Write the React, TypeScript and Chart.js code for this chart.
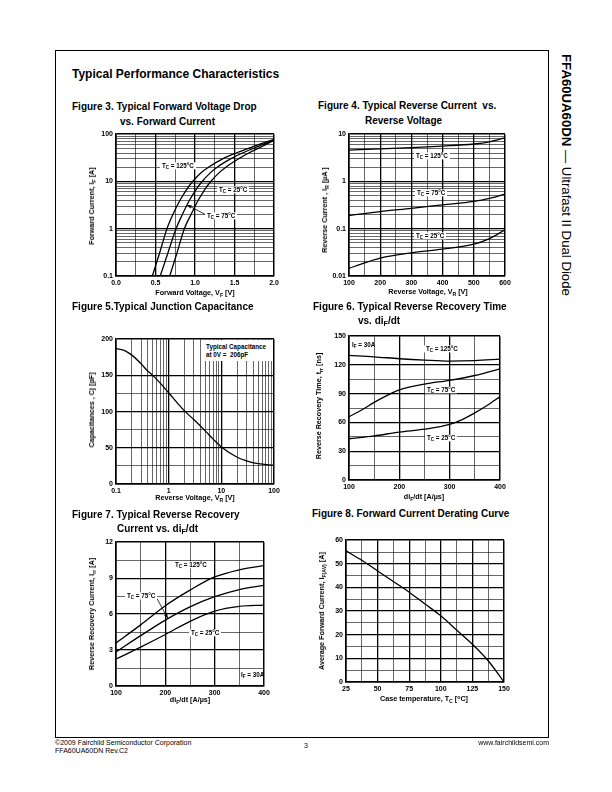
import React, { useEffect, useRef } from 'react';
import { Chart, registerables } from 'chart.js';

Chart.register(...registerables);

const FONT = '"Liberation Sans", Arial, Helvetica, sans-serif';

// ---------------- Figure 3 : Forward voltage drop ----------------
const fig3V125 = [0.46, 0.55, 0.645, 0.72, 0.81, 0.9, 0.97, 1.07, 1.17, 1.35, 1.52, 1.74, 2.0];
const fig3I125 = [0.1, 0.3, 1, 2, 4, 7, 10, 15, 20, 30, 40, 55, 78];
const fig3V75 = [0.56, 0.655, 0.76, 0.84, 0.93, 1.02, 1.09, 1.19, 1.28, 1.45, 1.6, 1.8, 2.0];
const fig3I75 = [0.1, 0.3, 1, 2, 4, 7, 10, 15, 20, 30, 40, 55, 76];
const fig3V25 = [0.68, 0.77, 0.865, 0.95, 1.04, 1.13, 1.2, 1.3, 1.39, 1.55, 1.68, 1.85, 2.0];
const fig3I25 = [0.1, 0.3, 1, 2, 4, 7, 10, 15, 20, 30, 40, 55, 74];
const fig3XGrid = [0, 0.25, 0.5, 0.75, 1.0, 1.25, 1.5, 1.75, 2.0];
const fig3XMajor = [0.5, 1.0, 1.5];
const fig3XLabelVals = [0, 0.5, 1.0, 1.5, 2.0];
const fig3XLabels = ['0.0', '0.5', '1.0', '1.5', '2.0'];
const fig3YLabelVals = [0.1, 1, 10, 100];
const fig3YLabels = ['0.1', '1', '10', '100'];

// ---------------- Figure 4 : Reverse current ----------------
const fig4VR = [100, 200, 300, 400, 500, 550, 600];
const fig4I125 = [4.6, 4.9, 5.2, 5.6, 6.2, 6.9, 8.4];
const fig4I75 = [0.19, 0.23, 0.27, 0.32, 0.38, 0.44, 0.54];
const fig4VR25 = [100, 150, 200, 300, 400, 500, 550, 600];
const fig4I25 = [0.0145, 0.019, 0.024, 0.031, 0.037, 0.047, 0.062, 0.095];
const fig4XGrid = [100, 150, 200, 250, 300, 350, 400, 450, 500, 550, 600];
const fig4XMajor = [200, 300, 400, 500];
const fig4XLabelVals = [100, 200, 300, 400, 500, 600];
const fig4XLabels = ['100', '200', '300', '400', '500', '600'];
const fig4YLabelVals = [0.01, 0.1, 1, 10];
const fig4YLabels = ['0.01', '0.1', '1', '10'];

// ---------------- Figure 5 : Junction capacitance ----------------
const fig5VR = [0.1, 0.15, 0.2, 0.3, 0.4, 0.5, 0.7, 1, 2, 3, 5, 7, 10, 20, 30, 50, 100];
const fig5C = [187, 184, 178, 166, 156, 150, 139, 126, 101, 89, 73, 62, 51, 37, 32, 28, 26];
const fig5YGrid = [0, 25, 50, 75, 100, 125, 150, 200];
const fig5YMajor = [50, 100, 150];
const fig5XLabelVals = [0.1, 1, 10, 100];
const fig5XLabels = ['0.1', '1', '10', '100'];
const fig5YLabelVals = [0, 50, 100, 150, 200];
const fig5YLabels = ['0', '50', '100', '150', '200'];

// ---------------- Figure 6 : Reverse recovery time ----------------
const fig6Di = [100, 150, 200, 250, 300, 350, 400];
const fig6T125 = [130, 128.5, 126.5, 125, 124, 124.5, 126];
const fig6Di75 = [100, 125, 150, 175, 200, 250, 300, 350, 400];
const fig6T75 = [66, 73, 81, 88, 94, 100, 104, 109, 116];
const fig6Di25 = [100, 150, 200, 250, 300, 325, 350, 375, 400];
const fig6T25 = [43, 46, 50, 53, 58, 63, 70, 78, 87];
const fig6XGrid = [100, 150, 200, 250, 300, 350, 400];
const fig6XMajor = [200, 300];
const fig6XLabelVals = [100, 200, 300, 400];
const fig6XLabels = ['100', '200', '300', '400'];
const fig6YGrid = [0, 15, 30, 45, 60, 75, 90, 105, 120, 150];
const fig6YMajor = [30, 60, 90, 120];
const fig6YLabelVals = [0, 30, 60, 90, 120, 150];
const fig6YLabels = ['0', '30', '60', '90', '120', '150'];

// ---------------- Figure 7 : Reverse recovery current ----------------
const fig7Di = [100, 150, 200, 250, 300, 350, 400];
const fig7I125 = [3.6, 5.1, 6.7, 8.0, 9.1, 9.7, 10.05];
const fig7I75 = [2.85, 4.2, 5.5, 6.6, 7.45, 8.05, 8.4];
const fig7I25 = [2.25, 3.25, 4.3, 5.4, 6.25, 6.65, 6.75];
const fig7XGrid = [100, 150, 200, 250, 300, 350, 400];
const fig7XMajor = [200, 300];
const fig7XLabelVals = [100, 200, 300, 400];
const fig7XLabels = ['100', '200', '300', '400'];
const fig7YGrid = [0, 1.5, 3, 4.5, 6, 7.5, 9, 10.5, 12];
const fig7YMajor = [3, 6, 9];
const fig7YLabelVals = [0, 3, 6, 9, 12];
const fig7YLabels = ['0', '3', '6', '9', '12'];

// ---------------- Figure 8 : Derating curve ----------------
const fig8Tc = [25, 37.5, 50, 62.5, 75, 87.5, 100, 112.5, 125, 137.5, 150];
const fig8IF = [55.5, 51.5, 47, 42.5, 38, 33, 28, 22, 16, 9, 0];
const fig8XGrid = [25, 37.5, 50, 62.5, 75, 87.5, 100, 112.5, 125, 137.5, 150];
const fig8XMajor = [50, 75, 100, 125];
const fig8XLabelVals = [25, 50, 75, 100, 125, 150];
const fig8XLabels = ['25', '50', '75', '100', '125', '150'];
const fig8YGrid = [0, 5, 10, 15, 20, 25, 30, 35, 40, 45, 50, 55, 60];
const fig8YMajor = [10, 20, 30, 40, 50];
const fig8YLabelVals = [0, 10, 20, 30, 40, 50, 60];
const fig8YLabels = ['0', '10', '20', '30', '40', '50', '60'];

// ---------------- helpers ----------------
const logGrid = (lo: number, hi: number) => {
  const out: number[] = [];
  for (let e = lo; e < hi; e++) for (let m = 1; m < 10; m++) out.push(+(m * Math.pow(10, e)).toPrecision(3));
  out.push(Math.pow(10, hi));
  return out;
};
const decades = (lo: number, hi: number) => {
  const out: number[] = [];
  for (let e = lo; e <= hi; e++) out.push(Math.pow(10, e));
  return out;
};

type Axis = {
  type: 'linear' | 'logarithmic';
  min: number;
  max: number;
  grid: number[];
  major: number[];
  labelVals: number[];
  labels: string[];
};
type Series = { x: number[]; y: number[] };
type Arrow = { from: [number, number]; to: [number, number] };
type Plot = { l: number; t: number; w: number; h: number };

const YW = 30;
const XH = 14;
const PT = 6;
const PR = 10;

const near = (a: number, b: number) =>
  Math.abs(a - b) <= 1e-6 * Math.max(Math.abs(a), Math.abs(b), 1e-9);

function scaleOptions(ax: Axis, isX: boolean) {
  return {
    type: ax.type,
    min: ax.min,
    max: ax.max,
    position: isX ? 'bottom' : 'left',
    afterBuildTicks: (s: any) => {
      s.ticks = ax.grid.map((v) => ({ value: v }));
    },
    afterFit: (s: any) => {
      if (isX) s.height = XH;
      else s.width = YW;
    },
    grid: {
      color: '#000',
      drawTicks: false,
      lineWidth: (c: any) => {
        const v = c.tick ? c.tick.value : undefined;
        if (v === undefined) return 0.6;
        if (near(v, ax.min) || near(v, ax.max)) return 1.5;
        return ax.major.some((m) => near(m, v)) ? 1.3 : 0.6;
      },
    },
    border: { display: true, color: '#000', width: 1.5 },
    ticks: {
      autoSkip: false,
      maxRotation: 0,
      minRotation: 0,
      padding: 3,
      color: '#000',
      font: { family: FONT, size: 7, weight: 'bold' },
      callback: (v: any) => {
        const i = ax.labelVals.findIndex((l) => near(l, Number(v)));
        return i >= 0 ? ax.labels[i] : '';
      },
    },
  };
}

function PlotChart({ plot, x, y, series, arrows = [] }: { plot: Plot; x: Axis; y: Axis; series: Series[]; arrows?: Arrow[] }) {
  const ref = useRef<HTMLCanvasElement>(null);
  const cw = plot.w + YW + PR;
  const ch = plot.h + PT + XH;
  useEffect(() => {
    if (!ref.current) return;
    const leaders = {
      id: 'leaders',
      afterDatasetsDraw(chart: any) {
        const ctx = chart.ctx;
        const xs = chart.scales.x;
        const ys = chart.scales.y;
        ctx.save();
        ctx.strokeStyle = '#000';
        ctx.fillStyle = '#000';
        ctx.lineWidth = 0.8;
        arrows.forEach((a) => {
          const x1 = xs.getPixelForValue(a.from[0]);
          const y1 = ys.getPixelForValue(a.from[1]);
          const x2 = xs.getPixelForValue(a.to[0]);
          const y2 = ys.getPixelForValue(a.to[1]);
          ctx.beginPath();
          ctx.moveTo(x1, y1);
          ctx.lineTo(x2, y2);
          ctx.stroke();
          const ang = Math.atan2(y2 - y1, x2 - x1);
          const L = 4.5;
          const W = 1.8;
          ctx.beginPath();
          ctx.moveTo(x2, y2);
          ctx.lineTo(x2 - L * Math.cos(ang) + W * Math.sin(ang), y2 - L * Math.sin(ang) - W * Math.cos(ang));
          ctx.lineTo(x2 - L * Math.cos(ang) - W * Math.sin(ang), y2 - L * Math.sin(ang) + W * Math.cos(ang));
          ctx.closePath();
          ctx.fill();
        });
        ctx.restore();
      },
    };
    const chart = new Chart(ref.current, {
      type: 'line',
      data: {
        datasets: series.map((s) => ({
          data: s.x.map((xv, i) => ({ x: xv, y: s.y[i] })),
          borderColor: '#000',
          borderWidth: 1.3,
          pointRadius: 0,
          fill: false,
          cubicInterpolationMode: 'monotone',
        })),
      },
      options: {
        responsive: false,
        animation: false,
        devicePixelRatio: 1,
        events: [],
        layout: { padding: { top: PT, right: PR, left: 0, bottom: 0 } },
        plugins: { legend: { display: false }, tooltip: { enabled: false }, title: { display: false } },
        scales: { x: scaleOptions(x, true), y: scaleOptions(y, false) },
      } as any,
      plugins: [leaders],
    } as any);
    return () => chart.destroy();
  }, []);
  return (
    <canvas
      ref={ref}
      width={cw}
      height={ch}
      style={{ position: 'absolute', left: plot.l - YW, top: plot.t - PT, width: cw, height: ch }}
    />
  );
}

const Sub = ({ children }: any) => (
  <span style={{ fontSize: '0.72em', position: 'relative', top: '0.3em' }}>{children}</span>
);
const Sup = ({ children }: any) => (
  <span style={{ fontSize: '0.72em', position: 'relative', top: '-0.35em' }}>{children}</span>
);

function Txt({ x, y, size, bold = true, anchor = 'left', bg, children }: any) {
  const tx = anchor === 'center' ? '-50%' : anchor === 'right' ? '-100%' : '0';
  return (
    <div
      style={{
        position: 'absolute',
        left: x,
        top: y,
        transform: `translate(${tx},-50%)`,
        fontSize: size,
        fontWeight: bold ? 'bold' : 'normal',
        lineHeight: 1.15,
        whiteSpace: 'pre',
        fontFamily: FONT,
        color: '#000',
        background: bg,
        padding: bg ? '0 2px' : 0,
      }}
    >
      {children}
    </div>
  );
}

function VTxt({ x, y, size, children }: any) {
  return (
    <div
      style={{
        position: 'absolute',
        left: x,
        top: y,
        transform: 'translate(-50%,-50%) rotate(-90deg)',
        fontSize: size,
        fontWeight: 'bold',
        lineHeight: 1.1,
        whiteSpace: 'nowrap',
        fontFamily: FONT,
        color: '#000',
      }}
    >
      {children}
    </div>
  );
}

const TC = (t: string) => (
  <>
    T<Sub>C</Sub> = {t}°C
  </>
);

export default function App() {
  const fig3X: Axis = { type: 'linear', min: 0, max: 2, grid: fig3XGrid, major: fig3XMajor, labelVals: fig3XLabelVals, labels: fig3XLabels };
  const fig3Y: Axis = { type: 'logarithmic', min: 0.1, max: 100, grid: logGrid(-1, 2), major: decades(-1, 2), labelVals: fig3YLabelVals, labels: fig3YLabels };
  const fig4X: Axis = { type: 'linear', min: 100, max: 600, grid: fig4XGrid, major: fig4XMajor, labelVals: fig4XLabelVals, labels: fig4XLabels };
  const fig4Y: Axis = { type: 'logarithmic', min: 0.01, max: 10, grid: logGrid(-2, 1), major: decades(-2, 1), labelVals: fig4YLabelVals, labels: fig4YLabels };
  const fig5X: Axis = { type: 'logarithmic', min: 0.1, max: 100, grid: logGrid(-1, 2), major: decades(-1, 2), labelVals: fig5XLabelVals, labels: fig5XLabels };
  const fig5Y: Axis = { type: 'linear', min: 0, max: 200, grid: fig5YGrid, major: fig5YMajor, labelVals: fig5YLabelVals, labels: fig5YLabels };
  const fig6X: Axis = { type: 'linear', min: 100, max: 400, grid: fig6XGrid, major: fig6XMajor, labelVals: fig6XLabelVals, labels: fig6XLabels };
  const fig6Y: Axis = { type: 'linear', min: 0, max: 150, grid: fig6YGrid, major: fig6YMajor, labelVals: fig6YLabelVals, labels: fig6YLabels };
  const fig7X: Axis = { type: 'linear', min: 100, max: 400, grid: fig7XGrid, major: fig7XMajor, labelVals: fig7XLabelVals, labels: fig7XLabels };
  const fig7Y: Axis = { type: 'linear', min: 0, max: 12, grid: fig7YGrid, major: fig7YMajor, labelVals: fig7YLabelVals, labels: fig7YLabels };
  const fig8X: Axis = { type: 'linear', min: 25, max: 150, grid: fig8XGrid, major: fig8XMajor, labelVals: fig8XLabelVals, labels: fig8XLabels };
  const fig8Y: Axis = { type: 'linear', min: 0, max: 60, grid: fig8YGrid, major: fig8YMajor, labelVals: fig8YLabelVals, labels: fig8YLabels };

  const titleSize = 10;
  const axSize = 7.2;
  const lblSize = 6.3;

  return (
    <div style={{ position: 'absolute', left: 0, top: 0, width: 612, height: 792, background: '#fff', fontFamily: FONT, overflow: 'hidden' }}>
      {/* page frame */}
      <div style={{ position: 'absolute', left: 55, top: 50, width: 494, height: 688, border: '1px solid #000', boxSizing: 'border-box' }} />
      <div style={{ position: 'absolute', left: 560, top: 54, writingMode: 'vertical-rl', fontFamily: FONT, fontSize: 13.2, whiteSpace: 'nowrap', color: '#000', lineHeight: 1 }}>
        <b>FFA60UA60DN</b> — Ultrafast II Dual Diode
      </div>

      <Txt x={72} y={75} size={12}>Typical Performance Characteristics</Txt>

      {/* Figure 3 */}
      <Txt x={72} y={107} size={titleSize}>Figure 3. Typical Forward Voltage Drop</Txt>
      <Txt x={120} y={122} size={titleSize}>vs. Forward Current</Txt>
      <PlotChart
        plot={{ l: 116, t: 133, w: 158, h: 143 }}
        x={fig3X}
        y={fig3Y}
        series={[
          { x: fig3V125, y: fig3I125 },
          { x: fig3V75, y: fig3I75 },
          { x: fig3V25, y: fig3I25 },
        ]}
        arrows={[{ from: [1.13, 2.0], to: [0.9, 3.2] }]}
      />
      <VTxt x={92} y={206} size={axSize}>Forward Current, I<Sub>F</Sub> [A]</VTxt>
      <Txt x={195} y={293} size={axSize} anchor="center">Forward Voltage, V<Sub>F</Sub> [V]</Txt>
      <Txt x={160} y={166} size={lblSize} bg="#fff">{TC('125')}</Txt>
      <Txt x={217} y={190} size={lblSize} bg="#fff">{TC('25')}</Txt>
      <Txt x={205} y={216} size={lblSize} bg="#fff">{TC('75')}</Txt>

      {/* Figure 4 */}
      <Txt x={318} y={106} size={titleSize}>{'Figure 4. Typical Reverse Current  vs.'}</Txt>
      <Txt x={365} y={121} size={titleSize}>Reverse Voltage</Txt>
      <PlotChart
        plot={{ l: 349, t: 133, w: 156, h: 143 }}
        x={fig4X}
        y={fig4Y}
        series={[
          { x: fig4VR, y: fig4I125 },
          { x: fig4VR, y: fig4I75 },
          { x: fig4VR25, y: fig4I25 },
        ]}
      />
      <VTxt x={325} y={210} size={axSize}>Reverse Current , I<Sub>R</Sub> [µA ]</VTxt>
      <Txt x={428} y={292} size={axSize} anchor="center">Reverse Voltage, V<Sub>R</Sub> [V]</Txt>
      <Txt x={414} y={156} size={lblSize} bg="#fff">{TC('125')}</Txt>
      <Txt x={415} y={193} size={lblSize} bg="#fff">{TC('75')}</Txt>
      <Txt x={414} y={236} size={lblSize} bg="#fff">{TC('25')}</Txt>

      {/* Figure 5 */}
      <Txt x={72} y={307} size={titleSize}>Figure 5.Typical Junction Capacitance</Txt>
      <PlotChart plot={{ l: 116, t: 338, w: 158, h: 146 }} x={fig5X} y={fig5Y} series={[{ x: fig5VR, y: fig5C }]} />
      <div style={{ position: 'absolute', left: 204, top: 340, width: 68, height: 21, background: '#fff' }} />
      <Txt x={206} y={347} size={lblSize}>Typical Capacitance</Txt>
      <Txt x={206} y={355} size={lblSize}>{'at 0V =  206pF'}</Txt>
      <VTxt x={92} y={410} size={axSize}>Capacitances , Cj [pF]</VTxt>
      <Txt x={195} y={498} size={axSize} anchor="center">Reverse Voltage, V<Sub>R</Sub> [V]</Txt>

      {/* Figure 6 */}
      <Txt x={313} y={307} size={titleSize}>Figure 6. Typical Reverse Recovery Time</Txt>
      <Txt x={358} y={321} size={titleSize}>vs. di<Sub>F</Sub>/dt</Txt>
      <PlotChart
        plot={{ l: 349, t: 335, w: 151, h: 145 }}
        x={fig6X}
        y={fig6Y}
        series={[
          { x: fig6Di, y: fig6T125 },
          { x: fig6Di75, y: fig6T75 },
          { x: fig6Di25, y: fig6T25 },
        ]}
      />
      <VTxt x={319} y={406} size={axSize}>Reverse Recovery Time, t<Sub>rr</Sub> [ns]</VTxt>
      <Txt x={424} y={497} size={axSize} anchor="center">di<Sub>F</Sub>/dt [A/µs]</Txt>
      <Txt x={352} y={345} size={lblSize}>I<Sub>F</Sub> = 30A</Txt>
      <Txt x={424} y={349} size={lblSize} bg="#fff">{TC('125')}</Txt>
      <Txt x={425} y={390} size={lblSize} bg="#fff">{TC('75')}</Txt>
      <Txt x={425} y={438} size={lblSize} bg="#fff">{TC('25')}</Txt>

      {/* Figure 7 */}
      <Txt x={72} y={515} size={titleSize}>Figure 7. Typical Reverse Recovery</Txt>
      <Txt x={117} y={529} size={titleSize}>Current vs. di<Sub>F</Sub>/dt</Txt>
      <PlotChart
        plot={{ l: 116, t: 541, w: 148, h: 145 }}
        x={fig7X}
        y={fig7Y}
        series={[
          { x: fig7Di, y: fig7I125 },
          { x: fig7Di, y: fig7I75 },
          { x: fig7Di, y: fig7I25 },
        ]}
        arrows={[{ from: [183, 7.3], to: [205, 5.65] }]}
      />
      <VTxt x={92} y={614} size={axSize}>Reverse Recovery Current, I<Sub>rr</Sub> [A]</VTxt>
      <Txt x={190} y={700} size={axSize} anchor="center">di<Sub>F</Sub>/dt [A/µs]</Txt>
      <Txt x={173} y={565} size={lblSize} bg="#fff">{TC('125')}</Txt>
      <Txt x={125} y={596} size={lblSize} bg="#fff">{TC('75')}</Txt>
      <Txt x={189} y={633} size={lblSize} bg="#fff">{TC('25')}</Txt>
      <Txt x={241} y={675} size={lblSize}>I<Sub>F</Sub> = 30A</Txt>

      {/* Figure 8 */}
      <Txt x={312} y={514} size={titleSize}>Figure 8. Forward Current Derating Curve</Txt>
      <PlotChart plot={{ l: 346, t: 539, w: 158, h: 143 }} x={fig8X} y={fig8Y} series={[{ x: fig8Tc, y: fig8IF }]} />
      <VTxt x={322} y={611} size={axSize}>Average Forward Current, I<Sub>F(AV)</Sub> [A]</VTxt>
      <Txt x={424} y={699} size={axSize} anchor="center">Case temperature, T<Sub>C</Sub> [<Sup>o</Sup>C]</Txt>

      {/* footer */}
      <Txt x={55} y={743} size={7} bold={false}>©2009 Fairchild Semiconductor Corporation</Txt>
      <Txt x={55} y={751} size={7} bold={false}>FFA60UA60DN Rev.C2</Txt>
      <Txt x={306} y={746} size={7} bold={false} anchor="center">3</Txt>
      <Txt x={549} y={743} size={7} bold={false} anchor="right">www.fairchildsemi.com</Txt>
    </div>
  );
}
